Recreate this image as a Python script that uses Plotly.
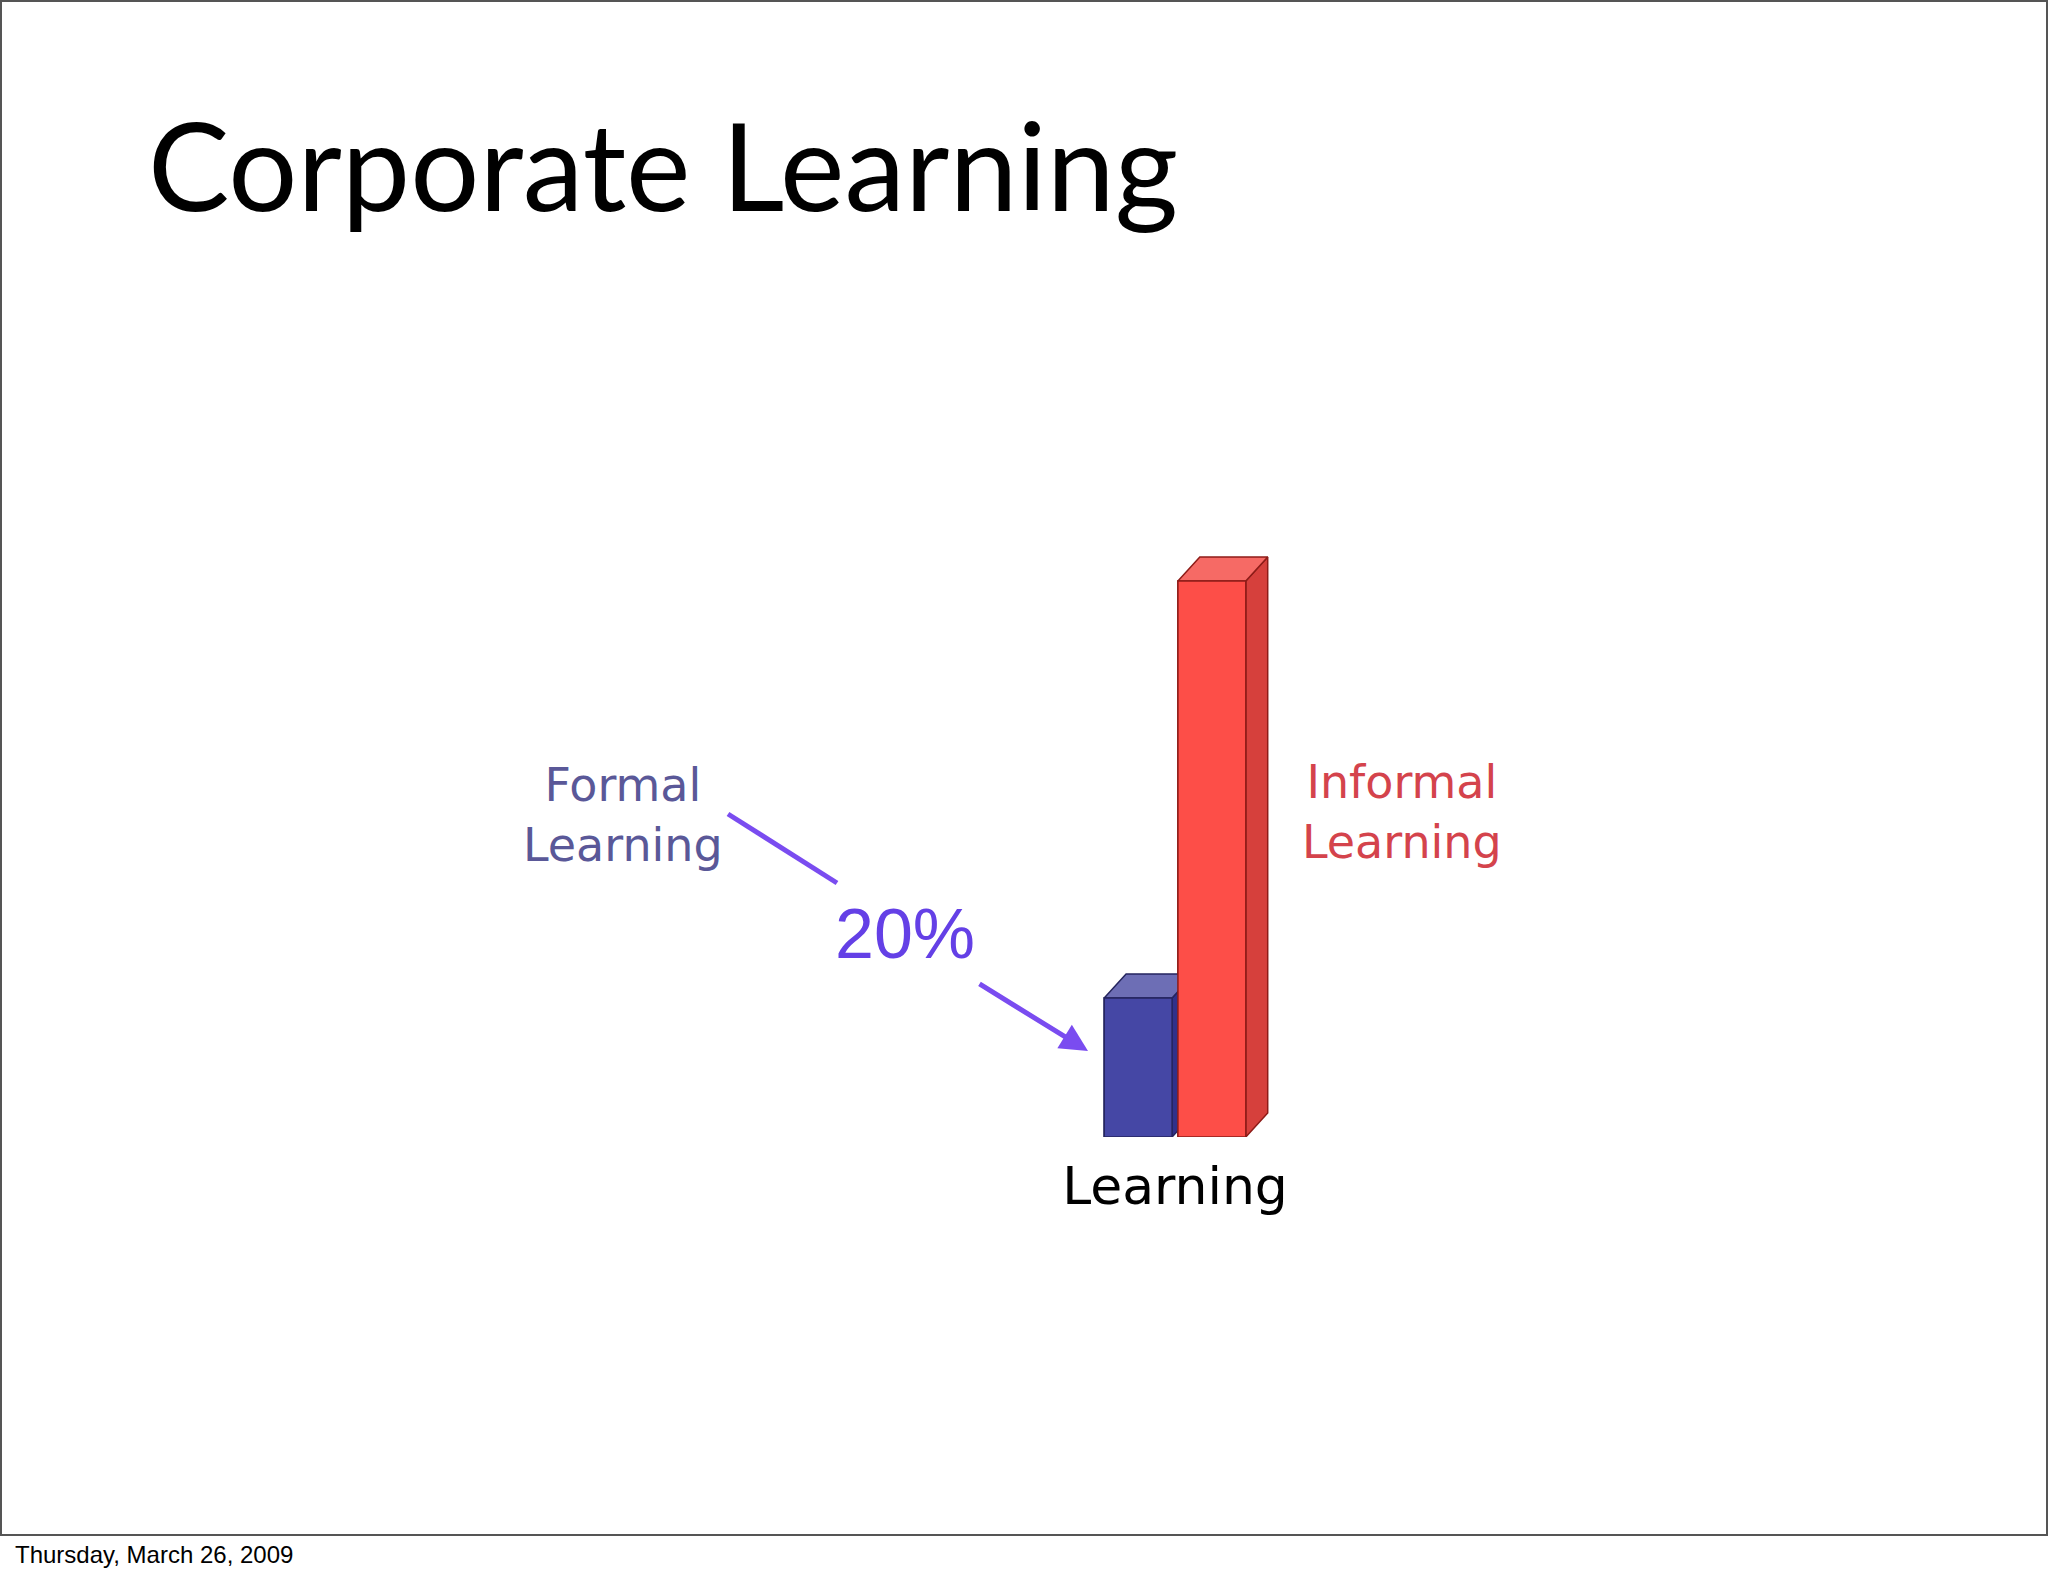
import plotly.graph_objects as go

# ---- data ----
categories = ["Learning"]
series_names = ["Formal Learning", "Informal Learning"]
series_values = [20, 80]
highlight_label = "20%"
title_text = "Corporate Learning"
date_text = "Thursday, March 26, 2009"

# ---- styling ----
W, H = 2048, 1576
front_colors = ["#4547a5", "#fd4e48"]
top_colors = ["#6d6eb5", "#f66a65"]
side_colors = ["#30318a", "#d6403c"]
edge_colors = ["#25255f", "#8e1c18"]
label_colors = ["#5a5898", "#d4434c"]
bar_offsets = [-0.485, 0.02]
bar_width = 0.465
DX, DY = 0.15, 3.45  # depth of the 3D effect in axis units

BASE_PX = 1137
PX_PER_Y = 6.95
PX_PER_X = 146
CENTER_PX = 1175

fig = go.Figure()

# front faces as real bars
for i, (name, val) in enumerate(zip(series_names, series_values)):
    fig.add_trace(go.Bar(
        x=[0], y=[val], name=name, width=bar_width, offset=bar_offsets[i],
        marker=dict(color=front_colors[i], line=dict(color=edge_colors[i], width=1.5)),
        showlegend=False, hoverinfo="name+y",
    ))

# 3D faces (side, top and front overlay), derived from values
for i, val in enumerate(series_values):
    x0 = bar_offsets[i]
    x1 = x0 + bar_width
    side_x = [x1, x1 + DX, x1 + DX, x1, x1]
    side_y = [0, DY, val + DY, val, 0]
    top_x = [x0, x0 + DX, x1 + DX, x1, x0]
    top_y = [val, val + DY, val + DY, val, val]
    front_x = [x0, x0, x1, x1, x0]
    front_y = [0, val, val, 0, 0]
    for xs, ys, col in ((side_x, side_y, side_colors[i]),
                        (top_x, top_y, top_colors[i]),
                        (front_x, front_y, front_colors[i])):
        fig.add_trace(go.Scatter(
            x=xs, y=ys, mode="lines", fill="toself", fillcolor=col,
            line=dict(color=edge_colors[i], width=1.5),
            showlegend=False, hoverinfo="skip",
        ))

def px(xp):
    return xp / W

def py(yp):
    return 1 - yp / H

annotations = [
    dict(text=title_text, x=px(146), y=py(164), xref="paper", yref="paper",
         xanchor="left", yanchor="middle", showarrow=False,
         font=dict(family="Lato", size=122, color="black")),
    dict(text=date_text, x=px(13), y=py(1554), xref="paper", yref="paper",
         xanchor="left", yanchor="middle", showarrow=False,
         font=dict(family="Liberation Sans", size=24, color="black")),
    dict(text=highlight_label, x=px(905), y=py(934), xref="paper", yref="paper",
         xanchor="center", yanchor="middle", showarrow=False,
         font=dict(family="Liberation Sans", size=70, color="#6440e6")),
    dict(text=series_names[0].replace(" ", "<br>"), x=px(623), y=py(815),
         xref="paper", yref="paper", xanchor="center", yanchor="middle",
         align="center", showarrow=False,
         font=dict(family="DejaVu Sans", size=46, color=label_colors[0])),
    dict(text=series_names[1].replace(" ", "<br>"), x=px(1402), y=py(812),
         xref="paper", yref="paper", xanchor="center", yanchor="middle",
         align="center", showarrow=False,
         font=dict(family="DejaVu Sans", size=46, color=label_colors[1])),
    dict(text="", x=px(1088), y=py(1051), xref="paper", yref="paper",
         ax=-110, ay=-68, showarrow=True, arrowhead=2, arrowsize=1.1,
         arrowwidth=5, arrowcolor="#7a4cf0"),
]

shapes = [
    dict(type="rect", xref="paper", yref="paper", x0=px(1), x1=px(2047),
         y0=py(1535), y1=py(1), line=dict(color="#555555", width=2)),
    dict(type="line", xref="paper", yref="paper", x0=px(728), y0=py(814),
         x1=px(837), y1=py(883), line=dict(color="#7a4cf0", width=5)),
]

fig.update_layout(
    width=W, height=H, margin=dict(l=0, r=0, t=0, b=0),
    paper_bgcolor="white", plot_bgcolor="white",
    barmode="overlay", annotations=annotations, shapes=shapes,
    xaxis=dict(range=[-CENTER_PX / PX_PER_X, (W - CENTER_PX) / PX_PER_X],
               domain=[0, 1], tickvals=[0], ticktext=categories,
               showgrid=False, zeroline=False, showline=False, ticks="",
               ticklabelstandoff=14,
               tickfont=dict(family="DejaVu Sans", size=52, color="black")),
    yaxis=dict(range=[0, BASE_PX / PX_PER_Y], domain=[1 - BASE_PX / H, 1],
               visible=False),
)

fig.write_html("out.html", config={"displayModeBar": False},
               post_script="document.body.style.margin='0';document.body.style.overflow='hidden';")
